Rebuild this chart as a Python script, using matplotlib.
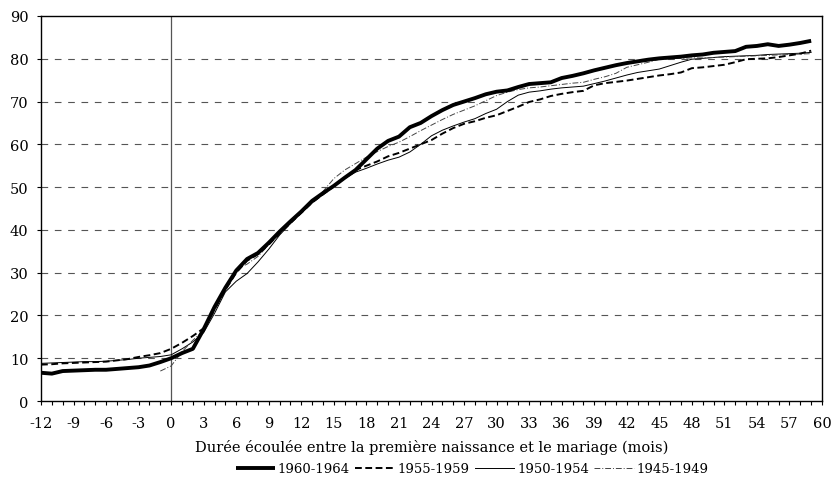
import numpy as np
import matplotlib
matplotlib.use("Agg")
import matplotlib.pyplot as plt
from matplotlib.ticker import MultipleLocator

months = list(range(-12, 60))

s1960 = [6.6, 6.4, 7.0, 7.1, 7.2, 7.3, 7.3, 7.5, 7.7, 7.9, 8.3, 9.1,
         10.0, 11.2, 12.2, 16.8, 22.0, 26.5, 30.5, 33.2, 34.6, 37.0, 39.6, 42.0,
         44.3, 46.8, 48.6, 50.3, 52.2, 54.0, 56.5, 59.0, 60.8, 61.8, 64.0, 65.0,
         66.6, 68.0, 69.2, 70.0, 70.8, 71.7, 72.3, 72.6, 73.4, 74.1, 74.3, 74.5,
         75.5, 76.0, 76.6, 77.3, 77.9, 78.5, 79.0, 79.4, 79.8, 80.1, 80.3, 80.5,
         80.8, 81.0, 81.4, 81.6, 81.8, 82.8, 83.0, 83.4, 83.0, 83.3, 83.7, 84.2]

s1955 = [8.5, 8.6, 8.8, 8.9, 9.0, 9.1, 9.2, 9.5, 9.8, 10.3, 10.7, 11.2,
         12.2, 13.6, 15.2, 17.0, 21.5, 26.0, 30.0, 32.8, 34.3, 36.6, 39.2, 41.6,
         44.0, 46.4, 48.3, 50.2, 52.2, 54.0, 55.0, 56.0, 57.2, 58.0, 59.0, 60.0,
         61.0, 62.5, 63.8, 64.8, 65.4, 66.2, 66.8, 67.8, 68.8, 69.9, 70.5, 71.3,
         71.8, 72.2, 72.5, 73.8, 74.3, 74.6, 74.9, 75.3, 75.7, 76.1, 76.4, 76.8,
         77.8, 78.0, 78.3, 78.6, 79.2, 79.9, 80.0, 80.1, 80.4, 80.8, 81.2, 81.9]

s1950 = [8.8, 8.9, 9.0, 9.1, 9.2, 9.2, 9.3, 9.5, 9.7, 10.0, 10.2, 10.4,
         10.8, 12.2, 13.8, 16.0, 20.5, 25.5, 28.0, 29.8, 32.5, 35.5, 38.8, 41.5,
         44.0, 46.3, 48.3, 50.2, 52.0, 53.5, 54.4, 55.4, 56.3, 57.0, 58.2, 60.0,
         62.0, 63.3, 64.3, 65.2, 66.0, 67.2, 68.2, 70.0, 71.5, 72.2, 72.5, 72.9,
         73.2, 73.4, 73.6, 74.2, 74.8, 75.5, 76.2, 76.8, 77.2, 77.6, 78.4, 79.2,
         79.9, 80.1, 80.3, 80.5, 80.6, 80.7, 80.8, 81.0, 81.1, 81.2, 81.3, 81.5]

s1945 = [np.nan] * 11 + [
         7.0,
         8.2, 11.5, 14.2, 16.5, 21.0, 26.5, 30.8, 32.0, 33.8, 36.5, 39.0, 41.5,
         44.0, 46.5, 49.0, 52.0, 54.0, 55.5, 57.0, 58.3, 59.5, 60.5, 61.8, 63.2,
         64.5, 65.8, 67.0, 68.0, 69.0, 70.2, 71.4, 72.2, 72.8, 73.2, 73.4, 73.7,
         74.0, 74.3, 74.5, 75.2, 75.8, 76.6, 78.0, 78.6, 79.2, 79.9, 80.0, 80.1,
         80.2, 80.2, 80.3, 80.4, 80.5, 80.6, 80.7, 80.8, 80.9, 81.0, 81.1, 81.2]

labels = ["1960-1964", "1955-1959", "1950-1954", "1945-1949"]
xlabel = "Durée écoulée entre la première naissance et le mariage (mois)"

plt.rcParams['font.family'] = ['DejaVu Serif']
plt.rcParams['axes.unicode_minus'] = False

fig = plt.figure(figsize=(8.34, 4.89), dpi=100)
ax = fig.add_axes([41/834, 1-402/489, (822-41)/834, (402-17)/489])

ax.plot(months, s1960, color='black', lw=2.8, solid_capstyle='butt', label=labels[0], zorder=5)
ax.plot(months, s1955, color='black', lw=1.4, ls=(0, (3.5, 1.8)), label=labels[1], zorder=4)
ax.plot(months, s1950, color='black', lw=0.7, label=labels[2], zorder=3)
ax.plot(months, s1945, color='#444444', lw=0.7, ls=(0, (6, 2, 1, 2)), label=labels[3], zorder=3)

ax.set_xlim(-12, 60)
ax.set_ylim(0, 90)
ax.xaxis.set_major_locator(MultipleLocator(3))
ax.xaxis.set_minor_locator(MultipleLocator(1))
ax.yaxis.set_major_locator(MultipleLocator(10))
ax.tick_params(axis='x', which='both', direction='out', length=3, width=0.8, labelsize=10.5, pad=8)
ax.tick_params(axis='y', which='major', direction='out', length=3, width=0.8, labelsize=10.5, pad=6)

for yv in range(10, 90, 10):
    ax.axhline(yv, color='#555555', lw=0.8, ls=(0, (6, 6)), zorder=1)
ax.axvline(0, color='#555555', lw=0.9, zorder=2)

for sp in ax.spines.values():
    sp.set_linewidth(1.0)
    sp.set_color('black')

ax.set_xlabel(xlabel, fontsize=10.5, labelpad=6)

leg = fig.legend(loc='center', bbox_to_anchor=(472/834, 1-470/489), ncol=4, frameon=False,
                 fontsize=9.5, handlelength=3.0, columnspacing=0.4, handletextpad=0.2)

fig.savefig("out.png", dpi=100)
